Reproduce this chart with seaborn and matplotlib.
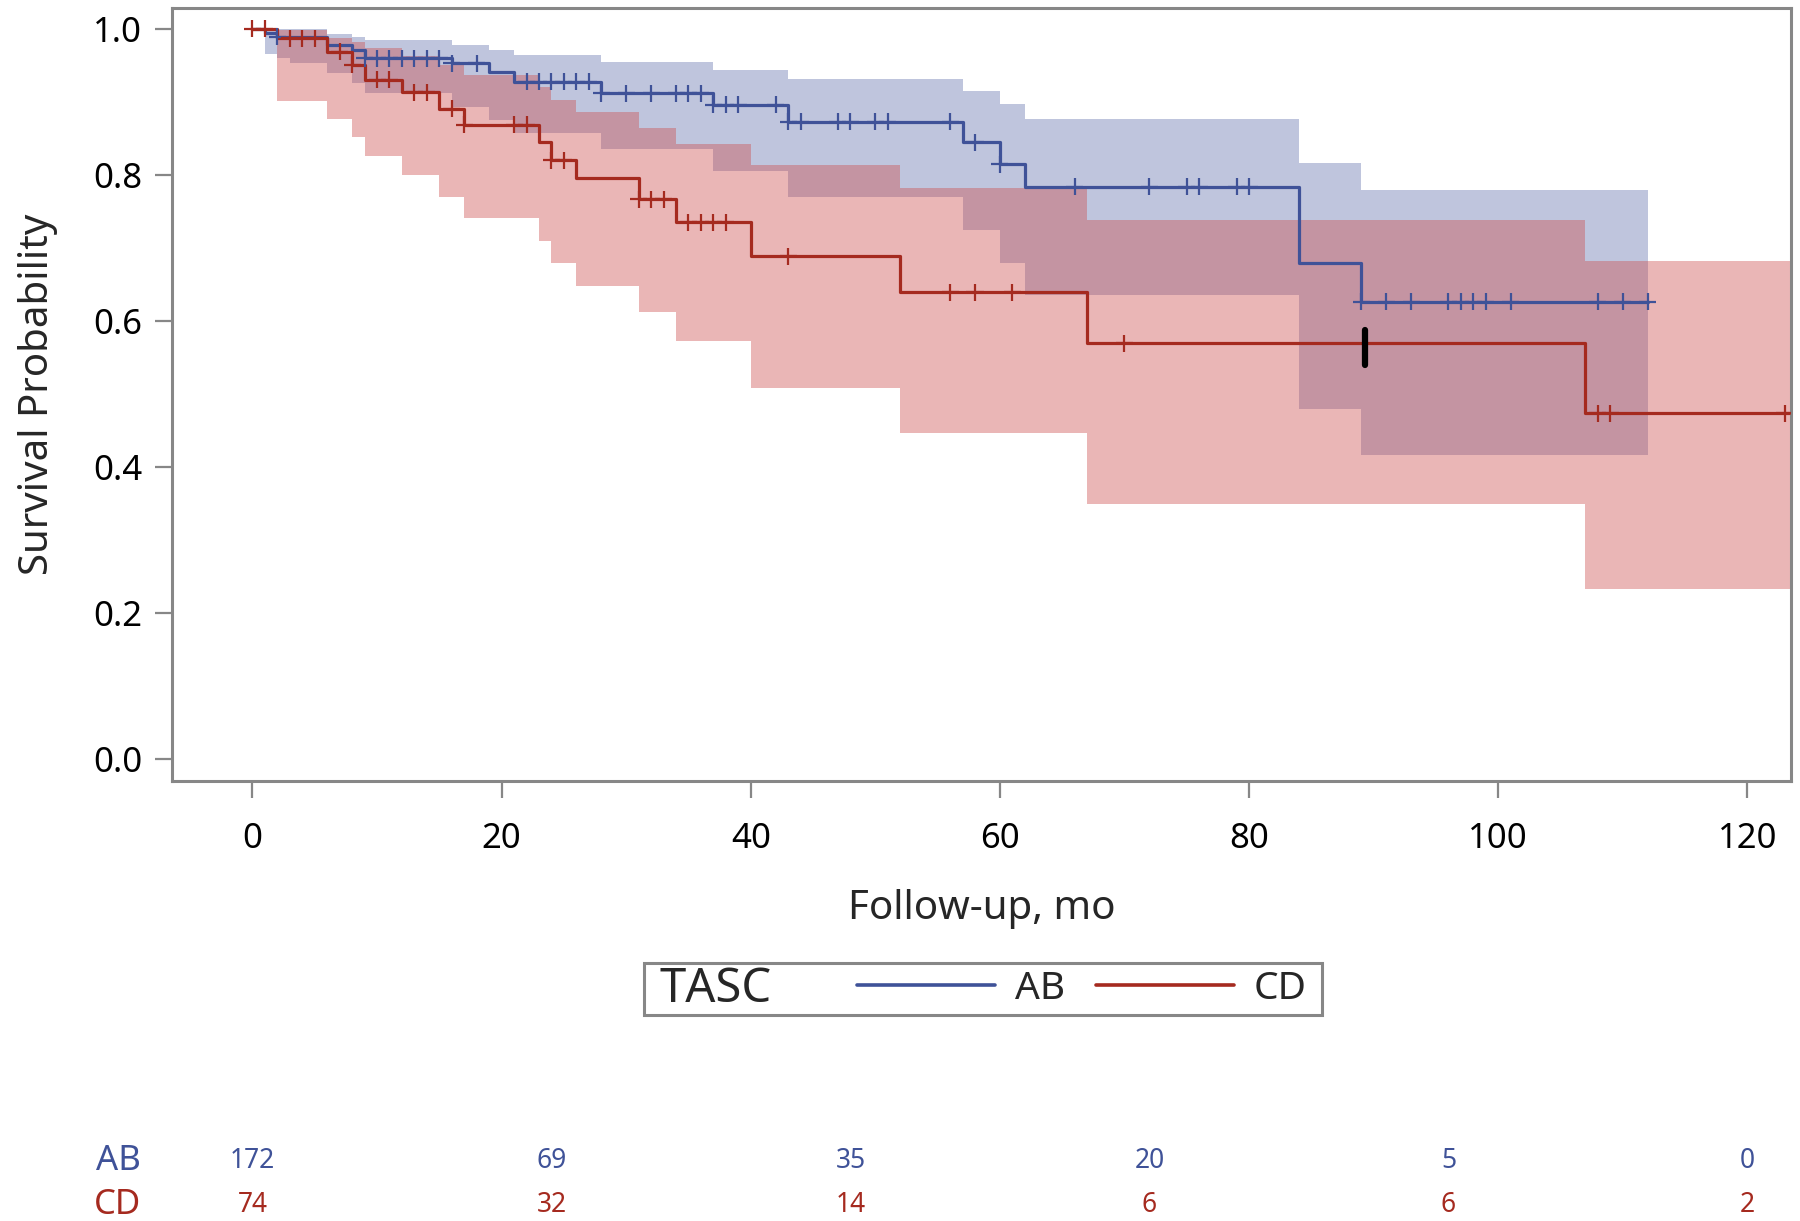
import matplotlib
matplotlib.use("Agg")

import matplotlib.pyplot as plt
import numpy as np
import pandas as pd
import seaborn as sns
from matplotlib import transforms
from matplotlib.lines import Line2D
from matplotlib.offsetbox import DrawingArea, HPacker

GROUPS = ["AB", "CD"]
LINE_COLORS = {"AB": "#3F5298", "CD": "#A52A1F"}
BAND_COLORS = {"AB": "#6775B0", "CD": "#CD5151"}

# Kaplan-Meier estimate: time where the step starts and the value from there on
AB_TIME = [0, 1, 2, 6, 8, 9, 16, 19, 21, 28, 37, 43, 57, 60, 62, 84, 89, 112]
AB_SURV = [1.0, 0.994, 0.9884, 0.9777, 0.9708, 0.9594, 0.9526, 0.941, 0.9274, 0.9115,
           0.8955, 0.8726, 0.8444, 0.8143, 0.7836, 0.6786, 0.626, 0.626]
CD_TIME = [0, 2, 6, 8, 9, 12, 15, 17, 23, 24, 26, 31, 34, 40, 52, 67, 107, 123.3]
CD_SURV = [1.0, 0.9865, 0.9685, 0.9503, 0.9297, 0.9129, 0.890, 0.868, 0.844, 0.820,
           0.795, 0.766, 0.735, 0.688, 0.639, 0.569, 0.473, 0.473]

# confidence bands (steps)
AB_BAND_TIME = [1, 2, 3, 6, 8, 9, 16, 19, 21, 28, 37, 43, 57, 60, 62, 84, 89, 112]
AB_LOWER = [0.965, 0.959, 0.9525, 0.939, 0.925, 0.9115, 0.893, 0.875, 0.857, 0.835,
            0.8055, 0.770, 0.724, 0.6786, 0.635, 0.4787, 0.416, 0.416]
AB_UPPER = [1.0, 1.0, 1.0, 0.993, 0.989, 0.9836, 0.9777, 0.9708, 0.964, 0.954,
            0.9434, 0.9307, 0.9147, 0.8964, 0.876, 0.8156, 0.779, 0.779]
CD_BAND_TIME = [2, 6, 8, 9, 12, 15, 17, 23, 24, 26, 31, 34, 40, 52, 67, 107, 124]
CD_LOWER = [0.901, 0.876, 0.851, 0.826, 0.800, 0.770, 0.740, 0.709, 0.679, 0.6476,
            0.6124, 0.5723, 0.508, 0.446, 0.349, 0.233, 0.233]
CD_UPPER = [0.998, 0.987, 0.982, 0.973, 0.962, 0.95, 0.937, 0.92, 0.902, 0.8855,
            0.8636, 0.842, 0.813, 0.781, 0.738, 0.682, 0.682]

# censored observations
AB_CENSOR = [2, 9, 10, 11, 12, 13, 14, 15, 16, 18, 22, 23, 24, 25, 26, 27, 28, 30, 32,
             34, 35, 36, 37, 38, 39, 42, 43, 44, 47, 48, 50, 51, 56, 58, 60, 66, 72, 75,
             76, 79, 80, 89, 91, 93, 96, 97, 98, 99, 101, 108, 110, 112]
CD_CENSOR = [0, 1, 3, 4, 5, 7, 8, 10, 11, 13, 14, 16, 17, 21, 22, 24, 25, 31, 32, 33,
             35, 36, 37, 38, 43, 56, 58, 61, 70, 108, 109, 123]

# black bar drawn on the CD curve
MARK_TIME = [89.3]
MARK_LOW = [0.539]
MARK_HIGH = [0.587]

# numbers at risk
RISK_TIME = [0, 24, 48, 72, 96, 120]
AB_RISK = [172, 69, 35, 20, 5, 0]
CD_RISK = [74, 32, 14, 6, 6, 2]

X_TICKS = [0, 20, 40, 60, 80, 100, 120]
Y_TICKS = [0.0, 0.2, 0.4, 0.6, 0.8, 1.0]

sns.set_theme(style="white")
plt.rcParams["font.family"] = ["Noto Sans", "DejaVu Sans"]

curves = pd.concat([
    pd.DataFrame({"time": AB_TIME, "surv": AB_SURV, "TASC": "AB"}),
    pd.DataFrame({"time": CD_TIME, "surv": CD_SURV, "TASC": "CD"}),
], ignore_index=True)

bands = {
    "AB": (AB_BAND_TIME, AB_LOWER, AB_UPPER),
    "CD": (CD_BAND_TIME, CD_LOWER, CD_UPPER),
}


def step_value(times, values, at):
    idx = np.searchsorted(np.asarray(times), np.asarray(at), side="right") - 1
    return np.asarray(values)[idx]


censored = pd.concat([
    pd.DataFrame({"time": AB_CENSOR, "surv": step_value(AB_TIME, AB_SURV, AB_CENSOR), "TASC": "AB"}),
    pd.DataFrame({"time": CD_CENSOR, "surv": step_value(CD_TIME, CD_SURV, CD_CENSOR), "TASC": "CD"}),
], ignore_index=True)

fig = plt.figure(figsize=(18, 12.21), dpi=100)
ax = fig.add_axes([0.0956, 0.3604, 0.8994, 0.633])

for group in GROUPS:
    t, lo, hi = bands[group]
    ax.fill_between(t, lo, hi, step="post", color=BAND_COLORS[group], alpha=0.42,
                    linewidth=0, zorder=1)

sns.lineplot(data=curves, x="time", y="surv", hue="TASC", palette=LINE_COLORS,
             estimator=None, sort=False, drawstyle="steps-post", linewidth=2.3,
             legend=False, ax=ax, zorder=3)
sns.scatterplot(data=censored, x="time", y="surv", hue="TASC", palette=LINE_COLORS,
                marker="+", s=150, linewidth=1.6, legend=False, ax=ax, zorder=4)

bar = ax.vlines(MARK_TIME, MARK_LOW, MARK_HIGH, colors="black", linewidth=4.5, zorder=5)
bar.set_capstyle("round")

frame_color = "#878787"
ax.set_xlim(-6.45, 123.5)
ax.set_ylim(-0.03, 1.028)
ax.set_xticks(X_TICKS)
ax.set_yticks(Y_TICKS)
ax.set_yticklabels([f"{v:.1f}" for v in Y_TICKS])
for spine in ax.spines.values():
    spine.set_color(frame_color)
    spine.set_linewidth(2.2)
ax.tick_params(axis="both", which="major", length=12.5, width=1.6, color=frame_color,
               labelsize=25, labelcolor="black", direction="out",
               bottom=True, left=True)
ax.tick_params(axis="x", pad=17)
ax.tick_params(axis="y", pad=9)
ax.set_xlabel("Follow-up, mo", fontsize=29, labelpad=24)
ax.set_ylabel("Survival Probability", fontsize=29, labelpad=25)
ax.grid(False)

handles = [Line2D([], [], color=LINE_COLORS[g], linewidth=2.6) for g in GROUPS]
leg = fig.legend(handles, GROUPS, title="TASC", loc="center", bbox_to_anchor=(0.546, 0.190),
                 ncol=2, frameon=True, fancybox=False, fontsize=28, title_fontsize=34,
                 handlelength=3.55, handletextpad=0.5, columnspacing=0.8, borderpad=0.12,
                 edgecolor=frame_color, framealpha=1)
leg.get_frame().set_linewidth(2.2)
# put the title on the same row as the entries, with side padding only
old_box = leg._legend_box
row = HPacker(pad=0, sep=62, align="center",
              children=[leg._legend_title_box, leg._legend_handle_box])
new_box = HPacker(pad=0, sep=0, align="center",
                  children=[DrawingArea(11, 37.5), row, DrawingArea(11, 37.5)])
new_box.set_figure(fig)
new_box.axes = old_box.axes
new_box.set_offset(leg._findoffset)
leg._legend_box = new_box

# numbers at risk below the plot
risk_trans = transforms.blended_transform_factory(ax.transData, fig.transFigure)
for group, counts, y in [("AB", AB_RISK, 0.0494), ("CD", CD_RISK, 0.0130)]:
    for t, n in zip(RISK_TIME, counts):
        ax.text(t, y, str(n), transform=risk_trans, ha="center", va="center",
                fontsize=19, color=LINE_COLORS[group], clip_on=False)
    fig.text(0.0785, y, group, ha="right", va="center", fontsize=25,
             color=LINE_COLORS[group])

fig.savefig("out.png", dpi=100, facecolor="white")
